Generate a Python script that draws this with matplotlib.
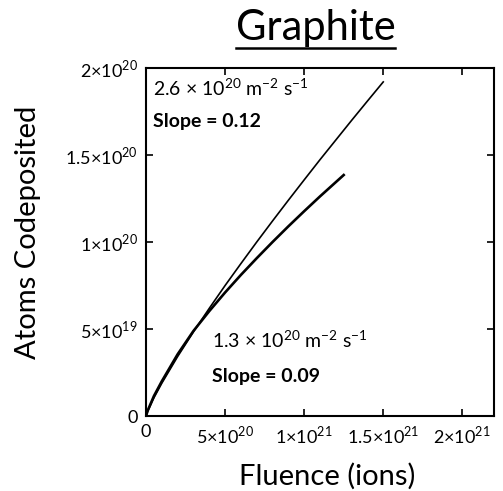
import matplotlib
matplotlib.use('Agg')
import matplotlib.pyplot as plt
from matplotlib.lines import Line2D
import numpy as np

plt.rcParams['font.family'] = ['Lato', 'DejaVu Sans']
plt.rcParams['mathtext.fontset'] = 'custom'
plt.rcParams['mathtext.rm'] = 'Lato'
plt.rcParams['mathtext.bf'] = 'Lato:bold'

# codeposition curves, fluence (ions) vs atoms codeposited
fluence_hi = [0, 0.1e20, 0.5e20, 1e20, 2e20, 3e20, 4e20, 5e20, 6e20, 7e20, 8e20,
              9e20, 10e20, 11e20, 12e20, 13e20, 14e20, 15e20]
atoms_hi = [0, 0.26e19, 1.05e19, 1.89e19, 3.42e19, 4.84e19, 6.19e19, 7.50e19, 8.76e19,
            10.0e19, 11.21e19, 12.40e19, 13.57e19, 14.73e19, 15.86e19, 16.99e19,
            18.10e19, 19.2e19]

fluence_lo = [0, 0.1e20, 0.5e20, 1e20, 2e20, 3e20, 4e20, 5e20, 6e20, 7e20, 8e20,
              9e20, 10e20, 11e20, 12e20, 12.5e20]
atoms_lo = [0, 0.3e19, 1.15e19, 2.0e19, 3.55e19, 4.89e19, 6.03e19, 7.10e19, 8.11e19,
            9.07e19, 10.0e19, 10.9e19, 11.77e19, 12.62e19, 13.44e19, 13.85e19]

xticks = [0, 5e20, 1e21, 1.5e21, 2e21]
xticklabels = ['0', '5×10$^{20}$', '1×10$^{21}$', '1.5×10$^{21}$', '2×10$^{21}$']
yticks = [0, 5e19, 1e20, 1.5e20, 2e20]
yticklabels = ['0', '5×10$^{19}$', '1×10$^{20}$', '1.5×10$^{20}$', '2×10$^{20}$']

fig = plt.figure(figsize=(5.03, 4.91), dpi=100)
ax = fig.add_axes([0.2903, 0.1527, 0.6917, 0.7088])

ax.plot(fluence_hi, atoms_hi, color='black', lw=1.2)
ax.plot(fluence_lo, atoms_lo, color='black', lw=1.9)

ax.set_xlim(0, 2.2e21)
ax.set_ylim(0, 2e20)
ax.set_xticks(xticks)
ax.set_xticklabels(xticklabels)
ax.set_yticks(yticks)
ax.set_yticklabels(yticklabels)
ax.tick_params(direction='in', length=5, width=1.2, top=True, right=True,
               labelsize=13, pad=6)
for s in ax.spines.values():
    s.set_linewidth(1.5)

ax.set_xlabel('Fluence (ions)', fontsize=21, va='center', ha='center')
ax.xaxis.set_label_coords(0.522, -0.172)
ax.set_ylabel('Atoms Codeposited', fontsize=21, va='center', ha='center')
ax.yaxis.set_label_coords(-0.339, 0.529)

ax.text(0.02, 0.975, '2.6 × 10$^{20}$ m$^{-2}$ s$^{-1}$', transform=ax.transAxes,
        fontsize=14, va='top', ha='left')
ax.text(0.02, 0.87, 'Slope = 0.12', transform=ax.transAxes,
        fontsize=14, fontweight='bold', va='top', ha='left')
ax.text(0.19, 0.25, '1.3 × 10$^{20}$ m$^{-2}$ s$^{-1}$', transform=ax.transAxes,
        fontsize=14, va='top', ha='left')
ax.text(0.19, 0.138, 'Slope = 0.09', transform=ax.transAxes,
        fontsize=14, fontweight='bold', va='top', ha='left')

# underlined title
title = fig.text(0.627, 0.943, 'Graphite', fontsize=30, ha='center', va='center')
fig.canvas.draw()
bb = title.get_window_extent().transformed(fig.transFigure.inverted())
fig.add_artist(Line2D([bb.x0, bb.x1], [bb.y0 - 0.002, bb.y0 - 0.002],
                      color='black', lw=1.8, transform=fig.transFigure))

fig.savefig('out.png', dpi=100)
